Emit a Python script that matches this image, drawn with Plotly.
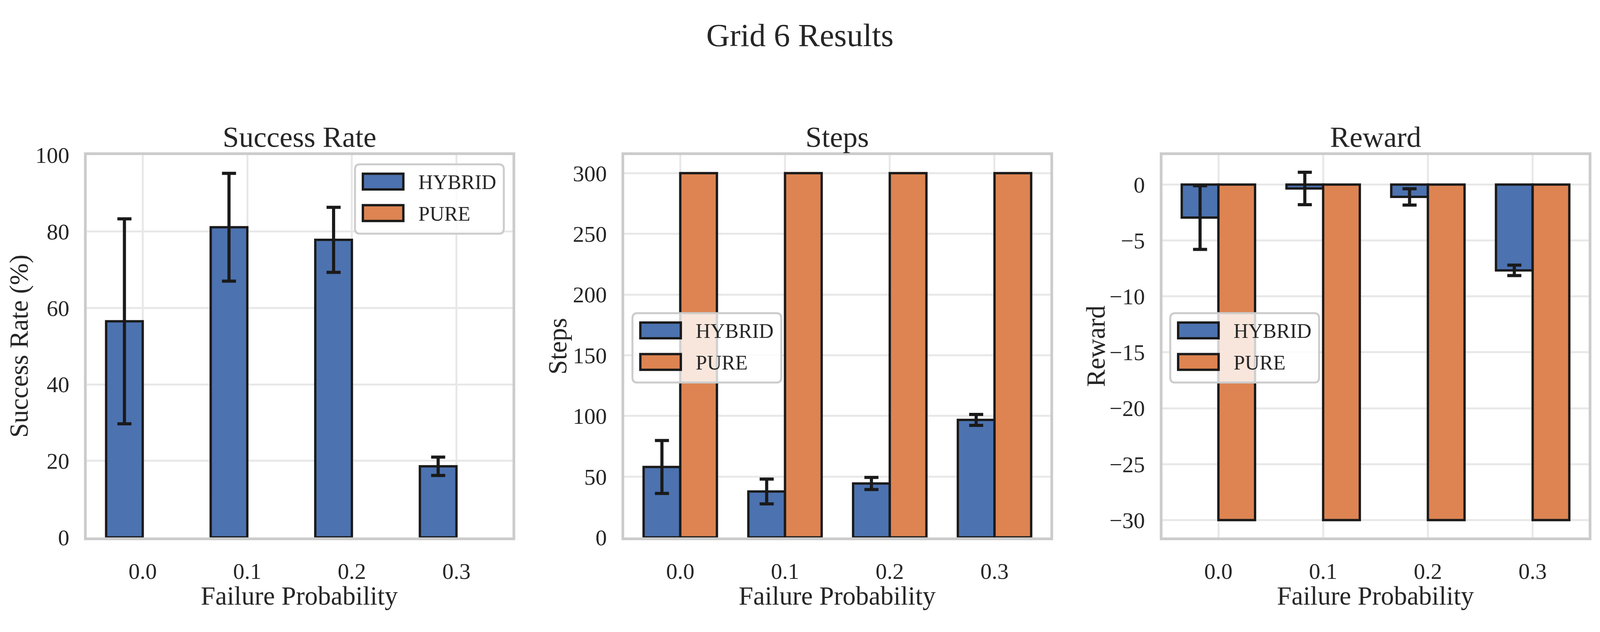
import plotly.graph_objects as go

# ---- data ----
failure_probs = ["0.0", "0.1", "0.2", "0.3"]

success_hybrid = [56.5, 81.1, 77.8, 18.6]
success_hybrid_err = [26.8, 14.1, 8.5, 2.4]
success_pure = [0, 0, 0, 0]

steps_hybrid = [58.0, 37.8, 44.4, 96.8]
steps_hybrid_err = [21.8, 10.2, 5.0, 4.5]
steps_pure = [300, 300, 300, 300]

reward_hybrid = [-2.95, -0.35, -1.1, -7.67]
reward_hybrid_err = [2.85, 1.45, 0.73, 0.47]
reward_pure = [-30, -30, -30, -30]

panel_titles = ["Success Rate", "Steps", "Reward"]
y_titles = ["Success Rate (%)", "Steps", "Reward"]
series_names = ["HYBRID", "PURE"]

# ---- styling / geometry ----
# layout is laid out in the reference's 4665x1618 pixel grid and mapped to paper
# fractions; the page itself is drawn to fill the browser viewport
REF_W, REF_H = 4665, 1618
PAGE_W, PAGE_H = 4096, 1618
SX = PAGE_W / REF_W

BLUE, ORANGE = "#4c72b0", "#dd8452"
EDGE = "#1a1a1a"
TEXT = "#262626"
FONT = "Liberation Serif"

panels_px = [(253, 1494), (1820, 3063), (3389, 4632)]
top_px, bot_px = 380, 1400
ylabel_x_px = [55, 1625, 3195]
legend_px = [(1035, 405), (1844, 802), (3412, 802)]


def fx(x):
    return x / REF_W


def fy(y):
    return 1 - y / REF_H


fig = go.Figure()

panels = [
    (success_hybrid, success_hybrid_err, success_pure),
    (steps_hybrid, steps_hybrid_err, steps_pure),
    (reward_hybrid, reward_hybrid_err, reward_pure),
]

for i, (hyb, hyb_err, pure) in enumerate(panels):
    suffix = "" if i == 0 else str(i + 1)
    fig.add_trace(go.Bar(
        x=failure_probs, y=hyb, name=series_names[0],
        marker=dict(color=BLUE, line=dict(color=EDGE, width=6)),
        error_y=dict(type="data", array=hyb_err, color=EDGE, thickness=8, width=round(21 * SX)),
        xaxis="x" + suffix, yaxis="y" + suffix, showlegend=False,
    ))
    # zero-height bars get no outline (matplotlib hides them behind the spine)
    fig.add_trace(go.Bar(
        x=failure_probs, y=pure, name=series_names[1],
        marker=dict(color=ORANGE, line=dict(color=EDGE, width=[0 if v == 0 else 6 for v in pure])),
        xaxis="x" + suffix, yaxis="y" + suffix, showlegend=False,
    ))

y_ranges = [[0, 100], [0, 315], [-31.55, 2.65]]
y_dticks = [20, 50, 5]

axis_common = dict(
    showline=True, mirror=True, linecolor="#cccccc", linewidth=7,
    showgrid=True, gridcolor="#e8e8e8", gridwidth=5,
    zeroline=False, ticks="",
    tickfont=dict(family=FONT, size=58, color=TEXT),
)

layout = dict(
    width=PAGE_W, height=PAGE_H,
    margin=dict(l=0, r=0, t=0, b=0),
    paper_bgcolor="white", plot_bgcolor="white",
    barmode="group", bargap=0.3, bargroupgap=0,
    showlegend=False,
    font=dict(family=FONT, color=TEXT),
)

for i, (x0, x1) in enumerate(panels_px):
    suffix = "" if i == 0 else str(i + 1)
    layout["xaxis" + suffix] = dict(
        axis_common,
        domain=[fx(x0), fx(x1)],
        anchor="y" + suffix,
        type="category",
        categoryorder="array", categoryarray=failure_probs,
        range=[-0.535, 3.535],
        ticklabelstandoff=30,
    )
    layout["yaxis" + suffix] = dict(
        axis_common,
        domain=[fy(bot_px), fy(top_px)],
        anchor="x" + suffix,
        range=y_ranges[i],
        dtick=y_dticks[i],
        ticklabelstandoff=26,
    )

fig.update_layout(**layout)

annotations = []
annotations.append(dict(text="Grid 6 Results", x=0.5, y=fy(60), xref="paper", yref="paper",
                        showarrow=False, xanchor="center", yanchor="middle",
                        font=dict(family=FONT, size=83, color=TEXT)))
for i, (x0, x1) in enumerate(panels_px):
    cx = fx((x0 + x1) / 2)
    annotations.append(dict(text=panel_titles[i], x=cx, y=fy(332), xref="paper", yref="paper",
                            showarrow=False, xanchor="center", yanchor="middle",
                            font=dict(family=FONT, size=75, color=TEXT)))
    annotations.append(dict(text="Failure Probability", x=cx, y=fy(1556), xref="paper", yref="paper",
                            showarrow=False, xanchor="center", yanchor="middle",
                            font=dict(family=FONT, size=67, color=TEXT)))
    annotations.append(dict(text=y_titles[i], x=fx(ylabel_x_px[i]), y=fy((top_px + bot_px) / 2),
                            xref="paper", yref="paper", textangle=-90,
                            showarrow=False, xanchor="center", yanchor="middle",
                            font=dict(family=FONT, size=67, color=TEXT)))


def rounded_rect(x0, y0, x1, y1, r):
    pts = [
        ("M", x0 + r, y0), ("L", x1 - r, y0), ("Q", x1, y0, x1, y0 + r),
        ("L", x1, y1 - r), ("Q", x1, y1, x1 - r, y1),
        ("L", x0 + r, y1), ("Q", x0, y1, x0, y1 - r),
        ("L", x0, y0 + r), ("Q", x0, y0, x0 + r, y0),
    ]
    out = []
    for p in pts:
        coords = p[1:]
        s = [f"{fx(coords[k]):.6f},{fy(coords[k + 1]):.6f}" for k in range(0, len(coords), 2)]
        out.append(p[0] + " ".join(s))
    return " ".join(out) + " Z"


# legends drawn by hand so the patches keep matplotlib's proportions
shapes = []
box_w, box_h = 434, 185
for (lx, ly) in legend_px:
    shapes.append(dict(type="path", xref="paper", yref="paper",
                       path=rounded_rect(lx, ly, lx + box_w, ly + box_h, 14),
                       fillcolor="rgba(255,255,255,0.8)",
                       line=dict(color="#cccccc", width=5)))
    for j, (name, color) in enumerate(zip(series_names, [BLUE, ORANGE])):
        cy = ly + 46 + j * 84
        shapes.append(dict(type="rect", xref="paper", yref="paper",
                           x0=fx(lx + 23), x1=fx(lx + 141),
                           y0=fy(cy - 21), y1=fy(cy + 21),
                           fillcolor=color, line=dict(color=EDGE, width=6)))
        annotations.append(dict(text=name, x=fx(lx + 182), y=fy(cy + 2),
                                xref="paper", yref="paper", showarrow=False,
                                xanchor="left", yanchor="middle",
                                font=dict(family=FONT, size=52, color=TEXT)))

fig.update_layout(annotations=annotations, shapes=shapes)

fig.write_html("out.html", config={"displayModeBar": False},
               post_script="document.body.style.margin = '0';")
